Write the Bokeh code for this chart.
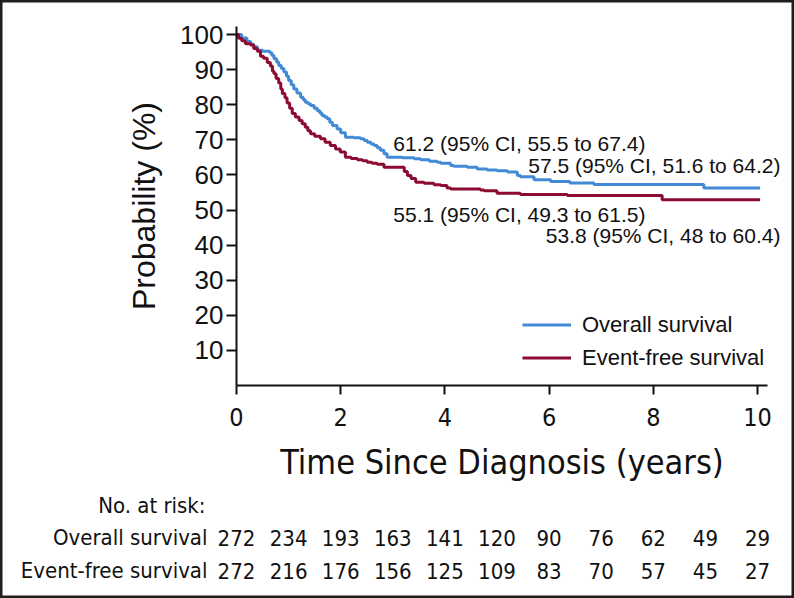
from bokeh.plotting import figure
from bokeh.models import (Range1d, FixedTicker, Label, LabelSet, ColumnDataSource,
                          Legend, LegendItem)
from bokeh.core.properties import value
from bokeh.embed import file_html
from bokeh.resources import INLINE

# ---------------- data ----------------
os_time = [0, 0.10, 0.20, 0.27, 0.33, 0.40, 0.50, 0.64, 0.68, 0.72, 0.77, 0.81, 0.86,
           0.91, 0.96, 1.00, 1.05, 1.10, 1.16, 1.23, 1.28, 1.32, 1.37, 1.42, 1.49, 1.55,
           1.60, 1.64, 1.69, 1.74, 1.79, 1.84, 1.93, 2.00, 2.09, 2.25, 2.38, 2.45, 2.51,
           2.58, 2.64, 2.70, 2.76, 2.83, 2.89, 3.18, 3.41, 3.53, 3.70, 3.85, 3.92, 4.11,
           4.17, 4.43, 4.62, 4.81, 5.00, 5.20, 5.39, 5.45, 5.71, 6.03, 6.40, 6.86, 8.97,
           10.05]
os_surv = [100, 99.0, 98.0, 97.2, 96.5, 95.5, 95.2, 94.8, 94.0, 93.1, 92.2, 91.2, 90.3,
           89.3, 88.1, 86.9, 85.7, 84.5, 83.3, 82.1, 81.4, 80.7, 80.3, 79.8, 79.0, 78.3,
           77.6, 76.9, 76.5, 76.0, 75.0, 74.1, 73.1, 72.0, 70.7, 70.6, 70.3, 69.8, 69.3,
           68.8, 68.4, 67.7, 67.0, 66.0, 65.0, 64.9, 64.6, 64.3, 63.9, 63.6, 63.3, 62.7,
           62.5, 62.2, 61.7, 61.4, 61.2, 60.8, 59.8, 59.5, 58.6, 58.1, 57.7, 57.3, 56.3,
           56.3]

efs_time = [0, 0.04, 0.10, 0.17, 0.27, 0.33, 0.40, 0.46, 0.52, 0.59, 0.65, 0.69, 0.72,
            0.76, 0.81, 0.85, 0.88, 0.93, 0.97, 1.02, 1.07, 1.13, 1.20, 1.26, 1.32, 1.37,
            1.42, 1.50, 1.61, 1.70, 1.80, 1.90, 1.99, 2.09, 2.20, 2.32, 2.42, 2.51, 2.60,
            2.70, 2.83, 3.15, 3.22, 3.28, 3.35, 3.44, 3.60, 3.79, 3.92, 4.04, 4.11, 4.68,
            4.75, 5.00, 5.45, 6.35, 8.17, 10.05]
efs_surv = [100, 98.9, 98.2, 97.4, 97.0, 96.0, 95.2, 93.8, 93.2, 92.0, 91.0, 89.5, 88.8,
            87.5, 86.2, 84.5, 83.2, 82.0, 80.5, 79.0, 77.5, 76.5, 75.5, 74.6, 73.6, 72.6,
            71.7, 71.0, 70.3, 69.3, 68.4, 67.4, 66.5, 65.0, 64.7, 64.3, 64.0, 63.6, 63.3,
            63.0, 62.2, 62.2, 61.0, 59.8, 59.0, 57.9, 57.6, 57.2, 57.0, 56.3, 56.0, 55.7,
            55.5, 54.8, 54.4, 54.1, 52.9, 52.9]

x_ticks = [0, 2, 4, 6, 8, 10]
y_ticks = [10, 20, 30, 40, 50, 60, 70, 80, 90, 100]

risk_years = [0, 1, 2, 3, 4, 5, 6, 7, 8, 9, 10]
risk_os = [272, 234, 193, 163, 141, 120, 90, 76, 62, 49, 29]
risk_efs = [272, 216, 176, 156, 125, 109, 83, 70, 57, 45, 27]

series_names = ["Overall survival", "Event-free survival"]
ci_texts = ["61.2 (95% CI, 55.5 to 67.4)", "57.5 (95% CI, 51.6 to 64.2)",
            "55.1 (95% CI, 49.3 to 61.5)", "53.8 (95% CI, 48 to 60.4)"]

# ---------------- styling ----------------
BLUE = "#428ad6"
RED = "#8c0b30"
INK = "#111111"
SANS = "Liberation Sans"
COND = "DejaVu Sans Condensed"

W, H = 794, 598
# pixel geometry of the plotting area: x=0 at 236px, 52.1 px/year;
# y=0 at 385px, 3.51 px per percent.  The frame spans the whole canvas so that
# table and annotations outside the axes are not clipped.
PXX, X0 = 52.1, 236.0
PXY, Y0 = 3.51, 385.0
p = figure(width=W, height=H, output_backend="svg", toolbar_location=None,
           x_range=Range1d(-X0 / PXX, (W - X0) / PXX),
           y_range=Range1d(-(H - Y0) / PXY, Y0 / PXY),
           min_border=0, x_axis_location="below", y_axis_location="left")
p.grid.visible = False
p.background_fill_color = "white"
p.border_fill_color = "white"
p.outline_line_color = "#1e1e1e"
p.outline_line_width = 4

r_os = p.step(os_time, os_surv, mode="after", line_color=BLUE, line_width=3)
r_efs = p.step(efs_time, efs_surv, mode="after", line_color=RED, line_width=3)

# axes (pinned at the data origin)
for ax in (p.xaxis[0], p.yaxis[0]):
    ax.fixed_location = 0
    ax.axis_line_width = 2
    ax.axis_line_color = INK
    ax.major_tick_line_width = 2
    ax.major_tick_line_color = INK
    ax.major_tick_in = 0
    ax.minor_tick_line_color = None
    ax.major_label_text_color = INK
    ax.axis_label_text_color = INK
    ax.axis_label_text_font_style = "normal"

p.xaxis.bounds = (0, 10.19)
p.xaxis.ticker = FixedTicker(ticks=x_ticks)
p.xaxis.major_tick_out = 9
p.xaxis.major_label_text_font = COND
p.xaxis.major_label_text_font_size = "25px"
p.xaxis.major_label_standoff = 13
p.xaxis.axis_label = "Time Since Diagnosis (years)"
p.xaxis.axis_label_text_font = COND
p.xaxis.axis_label_text_font_size = "34px"
p.xaxis.axis_label_standoff = 13

p.yaxis.bounds = (0, 102.3)
p.yaxis.ticker = FixedTicker(ticks=y_ticks)
p.yaxis.major_tick_out = 10
p.yaxis.major_label_text_font = SANS
p.yaxis.major_label_text_font_size = "26px"
p.yaxis.major_label_standoff = 3
p.yaxis.axis_label = "Probability (%)"
p.yaxis.axis_label_text_font = SANS
p.yaxis.axis_label_text_font_size = "32px"
p.yaxis.axis_label_standoff = 15

# legend (location in px from the bottom-left of the canvas)
legend = Legend(items=[LegendItem(label=series_names[0], renderers=[r_os]),
                       LegendItem(label=series_names[1], renderers=[r_efs])],
                location=(522, 224), orientation="vertical",
                glyph_width=49, glyph_height=33, label_height=33,
                label_standoff=11, spacing=0, padding=0, margin=0,
                border_line_color=None, background_fill_alpha=0,
                label_text_font=SANS, label_text_font_size="22px",
                label_text_color=INK)
p.add_layout(legend)

# CI annotations
ci_pos = [(3.01, 68.9, "left"), (10.44, 62.7, "right"),
          (3.01, 48.7, "left"), (10.44, 42.7, "right")]
for txt, (xx, yy, al) in zip(ci_texts, ci_pos):
    p.add_layout(Label(x=xx, y=yy, text=txt, text_align=al, text_baseline="middle",
                       text_font=SANS, text_font_size="21px", text_color=INK))

# number-at-risk table (rows in px from the canvas bottom, numbers on the year scale)
p.add_layout(Label(x=205, y=93, x_units="screen", y_units="screen", text="No. at risk:",
                   text_align="right", text_baseline="middle", text_font=COND,
                   text_font_size="22px", text_color=INK))
risk_src = ColumnDataSource(dict(year=risk_years,
                                 os=[str(v) for v in risk_os],
                                 efs=[str(v) for v in risk_efs]))
for name, col, yy in ((series_names[0], "os", 61), (series_names[1], "efs", 28)):
    p.add_layout(Label(x=207, y=yy, x_units="screen", y_units="screen", text=name,
                       text_align="right", text_baseline="middle", text_font=COND,
                       text_font_size="22px", text_color=INK))
    p.add_layout(LabelSet(x="year", y=yy, y_units="screen", text=col, source=risk_src,
                          text_align="center", text_baseline="middle",
                          text_font=value(COND), text_font_size=value("22px"),
                          text_color=INK))

open("out.html", "w").write(file_html(p, INLINE))
